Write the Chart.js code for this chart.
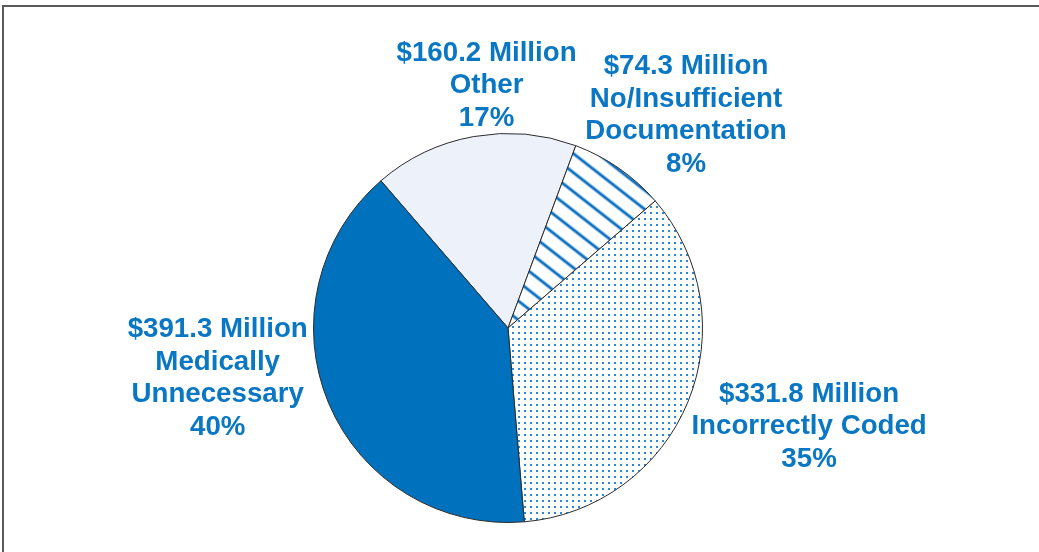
<!DOCTYPE html>
<html>
<head>
<meta charset="utf-8">
<script src="https://cdn.jsdelivr.net/npm/chart.js@4/dist/chart.umd.min.js"></script>
<style>
  html,body{margin:0;padding:0;background:#fff;overflow:hidden}
  #wrap{position:relative;width:1039px;height:552px}
  #frame{position:absolute;left:2px;top:5px;right:-10px;bottom:-10px;border-left:2px solid #5a5a5a;border-top:2px solid #5a5a5a;pointer-events:none}
</style>
</head>
<body>
<div id="wrap">
  <canvas id="pie" width="1039" height="552"></canvas>
  <div id="frame"></div>
</div>
<script>
'use strict';

// slices, clockwise from the top-left
const categories = ['Other', 'No/Insufficient Documentation', 'Incorrectly Coded', 'Medically Unnecessary'];
const labelLines = [['Other'], ['No/Insufficient', 'Documentation'], ['Incorrectly Coded'], ['Medically', 'Unnecessary']];
const amounts = [160.2, 74.3, 331.8, 391.3];   // $ million
const percents = [17, 8, 35, 40];

const BLUE = '#0a77c4';

function dotPattern() {
  const c = document.createElement('canvas');
  c.width = 6; c.height = 6;
  const g = c.getContext('2d');
  g.fillStyle = '#fff'; g.fillRect(0,0,6,6);
  g.fillStyle = '#2a88d4'; g.fillRect(2,2,2,2);
  return g.createPattern(c, 'repeat');
}

function hatchPattern(ctx) {
  const c = document.createElement('canvas');
  c.width = 4; c.height = 15;
  const g = c.getContext('2d');
  g.fillStyle = '#fff'; g.fillRect(0,0,4,15);
  g.fillStyle = '#8fc0e8'; g.fillRect(0,6,4,4);
  g.fillStyle = '#1070c0'; g.fillRect(0,7,4,2);
  const p = ctx.createPattern(c, 'repeat');
  p.setTransform(new DOMMatrix().rotateSelf(38));
  return p;
}

// where each label block sits, relative to the arc's outer mid point
const labelOffsets = [[13,-51],[67,-53],[121,25],[-111,-25]];

const pieLabels = {
  id: 'pieLabels',
  afterDatasetsDraw(chart) {
    const ctx = chart.ctx;
    const arcs = chart.getDatasetMeta(0).data;
    const lh = 32.5;
    ctx.save();
    ctx.fillStyle = BLUE;
    ctx.font = 'bold 27.7px "Liberation Sans", Arial, sans-serif';
    ctx.textAlign = 'center';
    ctx.textBaseline = 'middle';
    arcs.forEach((a,i)=>{
      const p = a.getProps(['x','y','startAngle','endAngle','outerRadius'], true);
      const mid = (p.startAngle+p.endAngle)/2;
      const cx = p.x + Math.cos(mid)*p.outerRadius + labelOffsets[i][0];
      const cy = p.y + Math.sin(mid)*p.outerRadius + labelOffsets[i][1];
      const lines = ['$'+amounts[i].toFixed(1)+' Million', ...labelLines[i], percents[i]+'%'];
      const top = cy - (lines.length-1)*lh/2;
      lines.forEach((t,k)=>ctx.fillText(t, cx, top+k*lh));
    });
    ctx.restore();
  }
};

const cv = document.getElementById('pie');
const ctx = cv.getContext('2d');

new Chart(cv, {
  type: 'pie',
  data: {
    labels: categories,
    datasets: [{
      data: percents,
      backgroundColor: ['#edf2fa', hatchPattern(ctx), dotPattern(), '#0071bc'],
      borderColor: '#2b2b2b',
      borderWidth: 1
    }]
  },
  options: {
    responsive: false,
    animation: false,
    rotation: -40.8,
    layout: {padding: {top: 133, bottom: 29, left: 0, right: 23}},
    plugins: {legend: {display: false}, tooltip: {enabled: false}}
  },
  plugins: [pieLabels]
});
</script>
</body>
</html>
